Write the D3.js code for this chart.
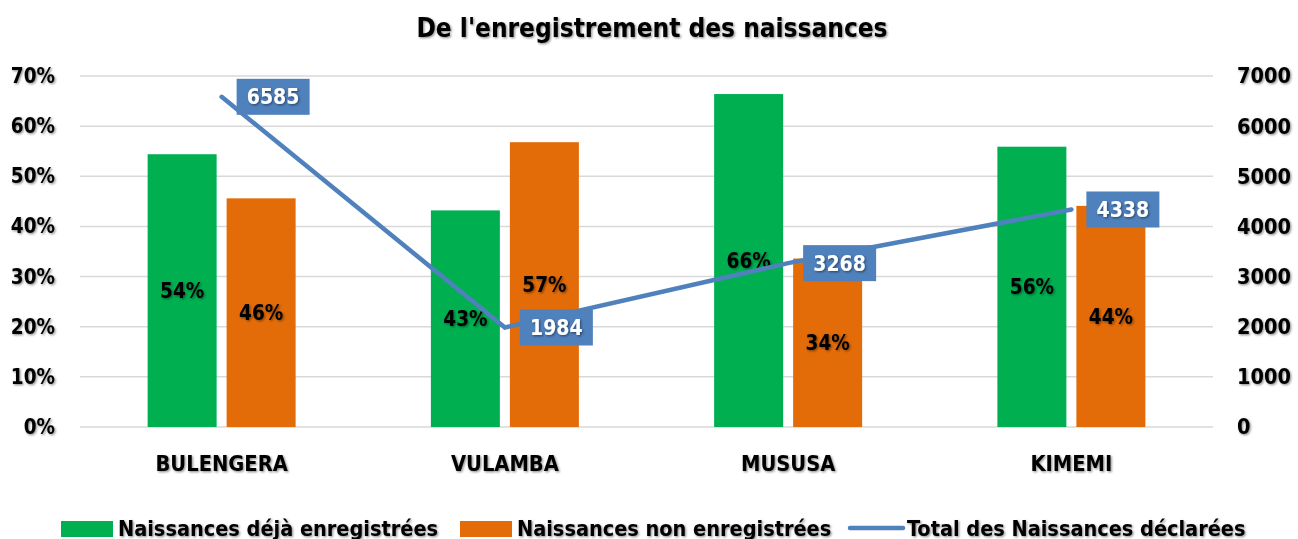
<!DOCTYPE html>
<html><head><meta charset="utf-8">
<script src="https://cdn.jsdelivr.net/npm/d3@7"></script>
<style>
body{margin:0;background:#fff;}
svg text{font-family:"DejaVu Sans Condensed","DejaVu Sans",sans-serif;font-stretch:condensed;font-weight:bold;}
</style></head>
<body><svg id="chart" width="1298" height="539"></svg>
<script>
const categories = ["BULENGERA","VULAMBA","MUSUSA","KIMEMI"];
const registered = [54.4, 43.2, 66.4, 55.9];
const notRegistered = [45.6, 56.8, 33.6, 44.1];
const totals = [6585, 1984, 3268, 4338];
const leftTicks = [0,10,20,30,40,50,60,70];
const rightTicks = [0,1000,2000,3000,4000,5000,6000,7000];
const seriesNames = ["Naissances déjà enregistrées","Naissances non enregistrées","Total des Naissances déclarées"];
const colors = {green:"#00b050", orange:"#e36c09", blue:"#4f81bd"};

const svg = d3.select("#chart");
const defs = svg.append("defs");
const f = defs.append("filter").attr("id","sh").attr("x","-10%").attr("y","-20%").attr("width","130%").attr("height","160%");
f.append("feDropShadow").attr("dx",1.2).attr("dy",1.2).attr("stdDeviation",1).attr("flood-color","#000").attr("flood-opacity",0.45);

const L = 80, R = 1213, T = 76, B = 427;
const x = d3.scaleBand().domain(categories).range([L,R]).paddingInner(0).paddingOuter(0);
const yL = d3.scaleLinear().domain([0,70]).range([B,T]);
const yR = d3.scaleLinear().domain([0,7000]).range([B,T]);
const barW = 69, gap = 10;

function styleText(sel, size){
  sel.attr("font-size",size).attr("fill","#000").attr("filter","url(#sh)")
    .style("font-family","'DejaVu Sans Condensed','DejaVu Sans',sans-serif")
    .style("font-stretch","condensed").style("font-weight","bold");
}

// gridlines
svg.append("g").selectAll("line").data(leftTicks).join("line")
  .attr("x1",L).attr("x2",R).attr("y1",d=>yL(d)).attr("y2",d=>yL(d))
  .attr("stroke","#d9d9d9").attr("stroke-width",1.5);

// left axis
const gl = svg.append("g").attr("transform",`translate(${L},0)`)
  .call(d3.axisLeft(yL).tickValues(leftTicks).tickFormat(d=>d+"%").tickSize(0).tickPadding(25));
gl.select(".domain").remove();
styleText(gl.selectAll("text"), 20.5);

// right axis
const gr = svg.append("g").attr("transform",`translate(${R},0)`)
  .call(d3.axisRight(yR).tickValues(rightTicks).tickFormat(d=>d).tickSize(0).tickPadding(24));
gr.select(".domain").remove();
styleText(gr.selectAll("text"), 21.5);

// category axis
const gx = svg.append("g").attr("transform",`translate(0,${B})`)
  .call(d3.axisBottom(x).tickSize(0).tickPadding(29));
gx.select(".domain").remove();
styleText(gx.selectAll("text"), 21.7);

const cx = d => x(d) + x.bandwidth()/2;

// bars
const barData = [];
categories.forEach((c,i)=>{
  barData.push({c, v:registered[i], x:cx(c)-gap/2-barW, col:colors.green});
  barData.push({c, v:notRegistered[i], x:cx(c)+gap/2, col:colors.orange});
});
svg.append("g").selectAll("rect").data(barData).join("rect")
  .attr("x",d=>d.x).attr("width",barW)
  .attr("y",d=>yL(d.v)).attr("height",d=>B-yL(d.v)).attr("fill",d=>d.col);
const bl = svg.append("g").selectAll("text").data(barData).join("text")
  .attr("x",d=>d.x+barW/2).attr("y",d=>(yL(d.v)+B)/2).attr("dy","0.36em")
  .attr("text-anchor","middle").text(d=>Math.round(d.v)+"%");
styleText(bl, 20.5);

// line
const pts = categories.map((c,i)=>({c, v:totals[i], x:cx(c), y:yR(totals[i])}));
svg.append("path").datum(pts)
  .attr("d",d3.line().x(d=>d.x).y(d=>d.y))
  .attr("fill","none").attr("stroke",colors.blue).attr("stroke-width",4.5).attr("stroke-linecap","round");

// line labels
const lg = svg.append("g").selectAll("g").data(pts).join("g")
  .attr("transform",d=>`translate(${d.x+15},${d.y})`);
lg.append("rect").attr("x",0).attr("y",-18).attr("width",73).attr("height",36).attr("fill",colors.blue);
const ll = lg.append("text").attr("x",36.5).attr("y",0).attr("dy","0.36em").attr("text-anchor","middle").text(d=>d.v);
styleText(ll, 21);
ll.attr("fill","#fff");

// title
const tt = svg.append("text").attr("x",652).attr("y",37).attr("text-anchor","middle")
  .text("De l'enregistrement des naissances");
styleText(tt, 26);

// legend
const leg = svg.append("g");
const legItems = [
  {name:seriesNames[0], type:"rect", col:colors.green, x:61},
  {name:seriesNames[1], type:"rect", col:colors.orange, x:460},
  {name:seriesNames[2], type:"line", col:colors.blue, x:850}
];
legItems.forEach(it=>{
  if(it.type==="rect"){
    leg.append("rect").attr("x",it.x).attr("y",521).attr("width",52).attr("height",16).attr("fill",it.col);
  } else {
    leg.append("line").attr("x1",it.x).attr("x2",it.x+53).attr("y1",528).attr("y2",528)
      .attr("stroke",it.col).attr("stroke-width",4.5).attr("stroke-linecap","round");
  }
  const t = leg.append("text").attr("x",it.x+57).attr("y",535.5).text(it.name);
  styleText(t, 21.5);
});
</script></body></html>
